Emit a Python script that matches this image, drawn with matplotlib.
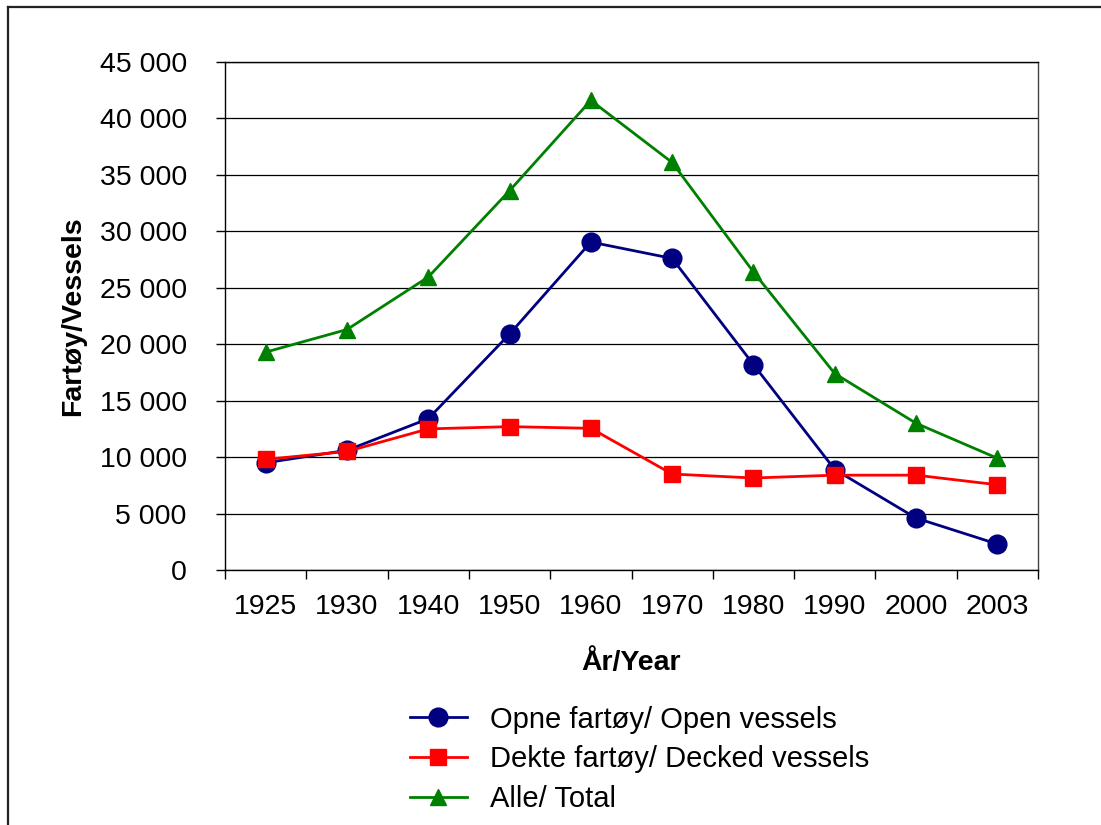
import matplotlib
matplotlib.use("Agg")
import matplotlib.pyplot as plt
from matplotlib.lines import Line2D
from matplotlib.ticker import FuncFormatter, FixedLocator

years = ["1925", "1930", "1940", "1950", "1960", "1970", "1980", "1990", "2000", "2003"]
open_vessels = [9500, 10600, 13400, 20900, 29050, 27600, 18200, 8900, 4600, 2300]
decked_vessels = [9800, 10500, 12500, 12700, 12550, 8500, 8150, 8400, 8400, 7550]
total_vessels = [19300, 21300, 25950, 33600, 41600, 36100, 26400, 17400, 13000, 9900]

labels = ["Opne fartøy/ Open vessels", "Dekte fartøy/ Decked vessels", "Alle/ Total"]

plt.rcParams['font.family'] = ['Liberation Sans', 'DejaVu Sans']
FS = 20.5

fig = plt.figure(figsize=(11.01, 8.25), dpi=100)
W, H = 1101, 825
ax = fig.add_axes([225 / W, 1 - 570 / H, (1038 - 225) / W, (570 - 62) / H])

x = list(range(len(years)))
l1, = ax.plot(x, open_vessels, color="#000080", lw=2.0, marker="o", ms=13.5, zorder=3)
l2, = ax.plot(x, decked_vessels, color="#FF0000", lw=2.0, marker="s", ms=11.5, zorder=4)
l3, = ax.plot(x, total_vessels, color="#008000", lw=2.0, marker="^", ms=11.5, zorder=3)

ax.set_xlim(-0.5, len(years) - 0.5)
ax.set_ylim(0, 45000)
ax.set_yticks(range(0, 45001, 5000))
ax.yaxis.set_major_formatter(FuncFormatter(lambda v, p: f"{int(v):,}".replace(",", " ")))
ax.grid(axis="y", color="black", lw=0.9)
ax.set_axisbelow(True)

ax.set_xticks(x)
ax.set_xticklabels(years)
ax.xaxis.set_minor_locator(FixedLocator([i - 0.5 for i in range(len(years) + 1)]))
ax.tick_params(axis="x", which="major", length=0, pad=17, labelsize=FS)
ax.tick_params(axis="x", which="minor", length=6.5, width=1, direction="out")
ax.tick_params(axis="y", which="major", length=6.5, width=1, direction="out", pad=21, labelsize=FS)

for s in ax.spines.values():
    s.set_color("black")
    s.set_linewidth(1.0)
ax.spines["right"].set_color("#444444")

ax.set_ylabel("Fartøy/Vessels", fontsize=FS, fontweight="bold", labelpad=10)
ax.set_xlabel("År/Year", fontsize=FS, fontweight="bold", labelpad=22)

leg = fig.legend([l1, l2, l3], labels, loc="upper left",
                 bbox_to_anchor=(398 / W, 1 - 694 / H), frameon=False,
                 fontsize=21, handlelength=1.95, handletextpad=0.8,
                 labelspacing=0.4, borderaxespad=0)

# outer border
fig.add_artist(Line2D([8 / W, 1.0], [1 - 7 / H, 1 - 7 / H], color="#222222", lw=1.6,
                      transform=fig.transFigure))
fig.add_artist(Line2D([8 / W, 8 / W], [1 - 7 / H, 0], color="#222222", lw=1.6,
                      transform=fig.transFigure))

fig.savefig("out.png", dpi=100)
